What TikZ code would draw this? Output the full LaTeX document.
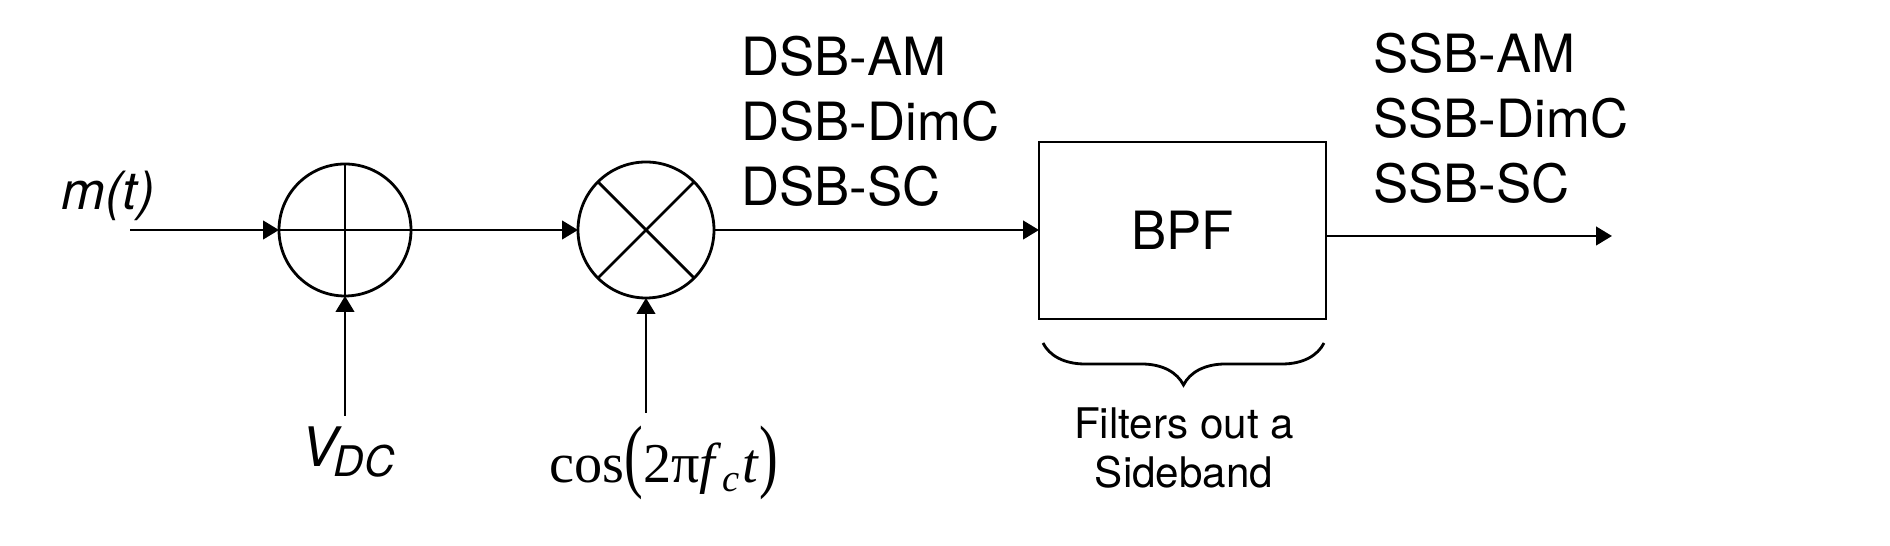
\documentclass[tikz,border=0pt]{standalone}
\usepackage{fontspec}
\usepackage{graphicx}
\setmainfont{TeX Gyre Heros}
\newfontfamily\timesfont{Liberation Serif}
\usetikzlibrary{arrows.meta,decorations.pathreplacing}
\begin{document}
\begin{tikzpicture}[line width=0.8pt,>={Triangle[length=4.5pt,width=5.2pt]}]
			\useasboundingbox (0,0)rectangle(18.9,5.46);
			\tikzset{
				junction/.style={circle,draw,inner sep=0,outer sep=0,minimum size=#1},
				bigtext/.style={inner sep=0,font=\fontsize{15}{18.5}\selectfont},
				smalltext/.style={inner sep=0,align=center,font=\fontsize{12}{13.7}\selectfont},
			}
			% blocks
			\node[junction=1.32cm] (adder) at (3.45,3.16) {};
			\node[junction=1.36cm] (mixer) at (6.46,3.16) {};
			\node[draw,inner sep=0,outer sep=0,minimum width=2.87cm,minimum height=1.77cm,bigtext] (bpf) at (11.825,3.155) {BPF};
			\draw (adder.north)--(adder.south) (adder.west)--(adder.east);
			\draw (mixer.north east)--(mixer.south west) (mixer.north west)--(mixer.south east);
			% labels
			\node[bigtext,font=\fontsize{15}{18}\selectfont\itshape] (msg) at (1.08,3.50) {m(t)};
			\node[inner sep=0,font=\fontsize{15.5}{18}\selectfont\itshape] (vdc) at (3.48,0.94) {V\kern-1pt\raisebox{-3.1pt}{\fontsize{12}{14}\selectfont DC}};
			\node[inner sep=0,font=\timesfont\fontsize{16}{18}\selectfont] (carrier) at (6.64,0.83) {cos\scalebox{1}[1.45]{(}2π\textit{f}\raisebox{-2.5pt}{\fontsize{11}{12}\selectfont\textit{c}}\kern1pt\textit{t}\scalebox{1}[1.45]{)}};
			\node[bigtext,align=left,anchor=north west] (dsb) at (7.40,5.11) {DSB-AM\\DSB-DimC\\DSB-SC};
			\node[bigtext,align=left,anchor=north west] (ssb) at (13.72,5.14) {SSB-AM\\SSB-DimC\\SSB-SC};
			\node[smalltext] (note) at (11.84,0.98) {Filters out a\\Sideband};
			% connectors
			\coordinate (in) at (1.30,3.16);
			\coordinate (out) at (16.12,3.10);
			\coordinate (dcfoot) at (3.45,1.30);
			\coordinate (cfoot) at (6.46,1.33);
			\draw[->] (in)--(adder);
			\draw[->] (adder)--(mixer);
			\draw[->] (mixer)--(mixer-|bpf.west);
			\draw[->] (bpf.east|-out)--(out);
			\draw[->] (dcfoot)--(adder);
			\draw[->] (cfoot)--(mixer);
			\draw[decorate,decoration={brace,amplitude=0.42cm}] ([xshift=-0.02cm,yshift=-0.24cm]bpf.south east)--([xshift=0.04cm,yshift=-0.24cm]bpf.south west);
		\end{tikzpicture}
\end{document}
